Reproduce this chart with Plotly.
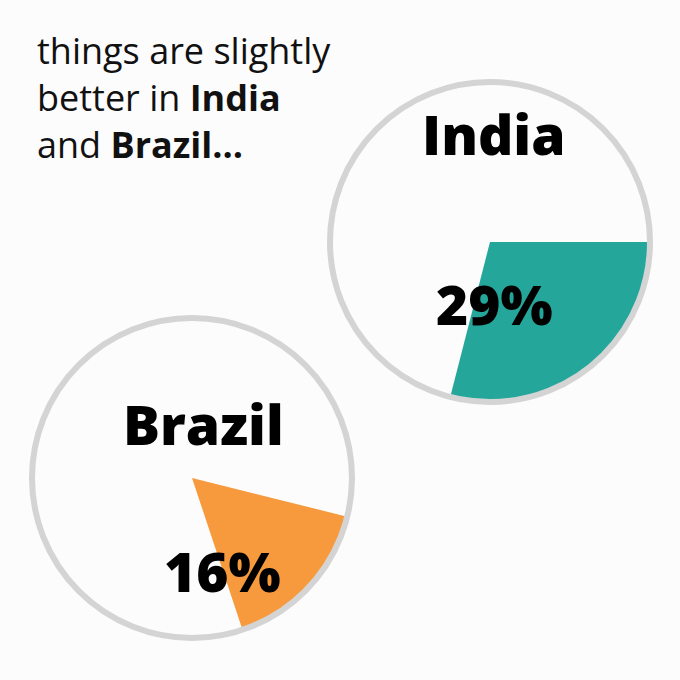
import plotly.graph_objects as go

countries = ["India", "Brazil"]
shares = [29, 16]
labels_pct = ["29%", "16%"]
colors = ["#24a69b", "#f79a3e"]
start_angles = [90, 104]  # degrees clockwise from 12 o'clock

title_lines = ["things are slightly", "better in <b>India</b>", "and <b>Brazil...</b>"]

W = H = 680
# circle centres / radius in pixels
centres = [(490, 242), (192, 478)]
R = 160

fig = go.Figure()

for i, c in enumerate(countries):
    cx, cy = centres[i]
    x0, x1 = (cx - R) / W, (cx + R) / W
    y0, y1 = 1 - (cy + R) / H, 1 - (cy - R) / H
    fig.add_trace(go.Pie(
        values=[shares[i], 100 - shares[i]],
        labels=[c, "rest"],
        marker=dict(colors=[colors[i], "rgba(0,0,0,0)"], line=dict(width=0)),
        rotation=start_angles[i],
        direction="clockwise",
        sort=False,
        textinfo="none",
        hoverinfo="none",
        showlegend=False,
        domain=dict(x=[x0, x1], y=[y0, y1]),
    ))
    fig.add_shape(type="circle", xref="paper", yref="paper",
                  x0=x0, x1=x1, y0=y0, y1=y1,
                  line=dict(color="#d4d4d4", width=6), layer="above")

# country labels
label_pos = [(494, 134), (203, 423)]
pct_pos = [(494, 303), (222, 570)]
for i, c in enumerate(countries):
    fig.add_annotation(x=label_pos[i][0] / W, y=1 - label_pos[i][1] / H,
                       xref="paper", yref="paper", text=c,
                       showarrow=False, xanchor="center", yanchor="middle",
                       font=dict(family="Open Sans", size=55, weight=800, color="#000000"))
    fig.add_annotation(x=pct_pos[i][0] / W, y=1 - pct_pos[i][1] / H,
                       xref="paper", yref="paper", text=labels_pct[i],
                       showarrow=False, xanchor="center", yanchor="middle",
                       font=dict(family="Open Sans", size=55, weight=800, color="#000000"))

fig.add_annotation(x=35 / W, y=1 - 24 / H, xref="paper", yref="paper",
                   text="<br>".join(title_lines), showarrow=False,
                   xanchor="left", yanchor="top", align="left",
                   font=dict(family="Open Sans", size=36, color="#111111"))

fig.update_layout(width=W, height=H, margin=dict(l=0, r=0, t=0, b=0),
                  paper_bgcolor="#fcfcfc", plot_bgcolor="#fcfcfc")

fig.write_html("out.html", config={"displayModeBar": False},
               post_script="document.body.style.margin='0';document.body.style.background='#fcfcfc';")
